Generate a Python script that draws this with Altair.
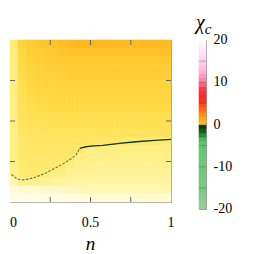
import altair as alt
import pandas as pd

# ---- heatmap values of chi_c, rows from top (y=0.975) to bottom (y=0.025), 20 columns n=0..1
row_y0975 = [.50, .80, .86, .89, .91, .93, .95, .97, .99, 1.0, 1.0, .99, .98, .97, .97, .97, .97, .97, .97, .97]
row_y0925 = [.48, .76, .83, .86, .88, .90, .92, .93, .94, .94, .94, .94, .94, .94, .94, .94, .94, .94, .94, .94]
row_y0875 = [.47, .74, .80, .83, .85, .87, .88, .89, .90, .90, .90, .90, .90, .90, .90, .90, .90, .90, .90, .90]
row_y0825 = [.46, .72, .78, .81, .83, .84, .85, .86, .87, .87, .87, .87, .87, .87, .87, .87, .87, .87, .87, .87]
row_y0775 = [.46, .70, .76, .79, .81, .82, .83, .84, .84, .84, .84, .84, .84, .84, .84, .84, .84, .84, .84, .84]
row_y0725 = [.45, .68, .74, .77, .79, .80, .81, .81, .81, .81, .81, .81, .81, .81, .81, .81, .81, .81, .81, .81]
row_y0675 = [.45, .66, .72, .75, .76, .77, .78, .78, .78, .78, .78, .78, .78, .78, .78, .78, .78, .78, .78, .78]
row_y0625 = [.45, .65, .70, .72, .73, .74, .75, .75, .75, .75, .75, .75, .75, .75, .75, .75, .75, .75, .75, .75]
row_y0575 = [.45, .63, .68, .70, .71, .72, .72, .72, .72, .72, .72, .72, .72, .72, .72, .72, .72, .72, .72, .72]
row_y0525 = [.44, .62, .66, .67, .68, .68, .68, .68, .68, .68, .68, .68, .68, .68, .68, .68, .68, .68, .68, .68]
row_y0475 = [.44, .60, .63, .64, .65, .65, .65, .65, .65, .65, .65, .65, .65, .65, .65, .65, .65, .65, .65, .65]
row_y0425 = [.44, .58, .60, .61, .62, .62, .62, .62, .62, .62, .62, .62, .62, .62, .62, .62, .62, .62, .62, .62]
row_y0375 = [.44, .56, .58, .60, .60, .60, .60, .60, .60, .60, .57, .57, .57, .57, .52, .52, .52, .52, .52, .52]
row_y0325 = [.44, .55, .57, .58, .58, .58, .58, .58, .57, .46, .45, .45, .45, .45, .45, .45, .45, .45, .45, .45]
row_y0275 = [.43, .55, .56, .56, .56, .56, .56, .55, .45, .43, .42, .42, .42, .42, .42, .42, .42, .42, .42, .42]
row_y0225 = [.42, .54, .55, .55, .55, .54, .50, .44, .41, .40, .39, .39, .39, .39, .39, .39, .39, .39, .39, .39]
row_y0175 = [.40, .50, .53, .53, .49, .44, .43, .39, .37, .37, .36, .36, .36, .36, .36, .36, .36, .36, .36, .36]
row_y0125 = [.25, .42, .40, .38, .38, .36, .35, .33, .32, .33, .32, .32, .32, .32, .32, .32, .32, .32, .32, .32]
row_y0075 = [.14, .18, .17, .18, .20, .20, .22, .24, .25, .26, .27, .27, .27, .27, .27, .27, .27, .27, .27, .27]
row_y0025 = [.06, .06, .06, .07, .08, .08, .10, .10, .12, .12, .13, .14, .14, .14, .14, .17, .17, .17, .17, .17]

heat_rows = [row_y0975, row_y0925, row_y0875, row_y0825, row_y0775, row_y0725, row_y0675,
             row_y0625, row_y0575, row_y0525, row_y0475, row_y0425, row_y0375, row_y0325,
             row_y0275, row_y0225, row_y0175, row_y0125, row_y0075, row_y0025]

# ---- boundary curve
curve_left_n = [0.01, 0.04, 0.07, 0.12, 0.16, 0.22, 0.27, 0.32, 0.37, 0.41, 0.433]
curve_left_y = [0.17, 0.145, 0.136, 0.142, 0.154, 0.178, 0.204, 0.23, 0.26, 0.29, 0.331]
curve_right_n = [0.433, 0.47, 0.52, 0.577, 0.68, 0.783, 0.9, 1.0]
curve_right_y = [0.331, 0.341, 0.346, 0.35, 0.362, 0.372, 0.381, 0.387]

# ---- axis ticks / labels / colorbar
x_first_label = [0]
x_other_labels = [0.5, 1]
frame_ticks = [0.25, 0.5, 0.75]
x_title = "n"
cb_labels = [-20, -10, 0, 10, 20]
cb_gridlines = [-15, -10, -5, 5, 10, 15]
cb_title_main = "χ"
cb_title_sub = "c"

chi_stops = [-20, -16, -5, -4, -3, -2, -1, -0.01, 0, 0.15, 0.3, 0.45, 0.6, 0.75, 0.9, 1.0,
             2.0, 3.0, 4.5, 6.5, 9, 11, 13, 15.5, 20]
chi_colors = ["#9acc9a", "#7cc886", "#5ec66e", "#4ab85a", "#2a8e36", "#145e18", "#0a3a0a", "#083008",
              "#fffff4", "#fffbd6", "#fff5a8", "#ffee80", "#ffe460", "#ffd840", "#ffc82c", "#ffb51c",
              "#ffa214", "#ff8a10", "#ff5a12", "#ff2020", "#ff3848", "#ff80a8", "#ffb0dc", "#ffd0f4", "#fff8ff"]

FONT = "Times New Roman"
W, H = 161, 162

nr = len(heat_rows)
recs = []
for i, row in enumerate(heat_rows):
    nc = len(row)
    for j, v in enumerate(row):
        recs.append({"n": j / nc, "n2": (j + 1) / nc,
                     "y": 1 - (i + 1) / nr, "y2": 1 - i / nr, "chi": v})
heat_df = pd.DataFrame(recs)

color_scale = alt.Scale(domain=chi_stops, range=chi_colors, interpolate="rgb")

x_enc = alt.X("n:Q", scale=alt.Scale(domain=[0, 1], nice=False, zero=False), axis=None)
y_enc = alt.Y("y:Q", scale=alt.Scale(domain=[0, 1], nice=False, zero=False), axis=None)

heat = alt.Chart(heat_df).mark_rect(strokeWidth=0.6).encode(
    x=x_enc, x2="n2:Q", y=y_enc, y2="y2:Q",
    color=alt.Color("chi:Q", scale=color_scale, legend=None),
    stroke=alt.Stroke("chi:Q", scale=color_scale, legend=None),
)

left_df = pd.DataFrame({"n": curve_left_n, "y": curve_left_y})
right_df = pd.DataFrame({"n": curve_right_n, "y": curve_right_y})
line_left = alt.Chart(left_df).mark_line(color="#2f5f28", strokeWidth=1.1, strokeDash=[2.5, 1.5],
                                          opacity=0.8).encode(x=x_enc, y=y_enc, order="n:Q")
line_right = alt.Chart(right_df).mark_line(color="#0a3a0c", strokeWidth=1.3).encode(
    x=x_enc, y=y_enc, order="n:Q")

tick_df = pd.DataFrame({"n": frame_ticks, "y": frame_ticks})
tick_col = "#666666"
t_bottom = alt.Chart(tick_df).mark_rule(color=tick_col).encode(x=x_enc, y=alt.value(H), y2=alt.value(H - 5))
t_top = alt.Chart(tick_df).mark_rule(color=tick_col).encode(x=x_enc, y=alt.value(0), y2=alt.value(5))
t_left = alt.Chart(tick_df).mark_rule(color=tick_col).encode(y=y_enc, x=alt.value(0), x2=alt.value(5))
t_right = alt.Chart(tick_df).mark_rule(color=tick_col).encode(y=y_enc, x=alt.value(W), x2=alt.value(W - 5))

lab_first = alt.Chart(pd.DataFrame({"n": x_first_label, "lab": [str(v) for v in x_first_label]})).mark_text(
    font=FONT, fontSize=14, align="left", baseline="alphabetic", color="#000"
).encode(x=x_enc, y=alt.value(H + 25), text="lab:N")
lab_other = alt.Chart(pd.DataFrame({"n": x_other_labels, "lab": [str(v) for v in x_other_labels]})).mark_text(
    font=FONT, fontSize=14, align="center", baseline="alphabetic", color="#000"
).encode(x=x_enc, y=alt.value(H + 25), text="lab:N")
x_title_mark = alt.Chart(pd.DataFrame({"t": [x_title]})).mark_text(
    font=FONT, fontSize=19, fontStyle="italic", align="center", baseline="alphabetic", color="#000"
).encode(x=alt.value(W / 2), y=alt.value(H + 48), text="t:N")

heat_panel = alt.layer(heat, line_left, line_right, t_bottom, t_top, t_left, t_right,
                       lab_first, lab_other, x_title_mark).properties(width=W, height=H)

# ---- colorbar
cb_lo = list(range(-20, 20))
cb_df = pd.DataFrame({"lo": cb_lo, "hi": [v + 1 for v in cb_lo],
                      "cval": [v + 1 if v >= 0 else v for v in cb_lo]})
cb_y = alt.Y("lo:Q", scale=alt.Scale(domain=[-20, 20], nice=False, zero=False), axis=None)
CBW, CBH = 7, 169
cb_rect = alt.Chart(cb_df).mark_rect(strokeWidth=0.6).encode(
    y=cb_y, y2="hi:Q", x=alt.value(0), x2=alt.value(CBW),
    color=alt.Color("cval:Q", scale=color_scale, legend=None),
    stroke=alt.Stroke("cval:Q", scale=color_scale, legend=None),
)
cb_grid = alt.Chart(pd.DataFrame({"lo": cb_gridlines})).mark_rule(color="#333", opacity=0.3).encode(
    y=cb_y, x=alt.value(0), x2=alt.value(CBW))
cb_lab = alt.Chart(pd.DataFrame({"lo": cb_labels, "lab": [str(v) for v in cb_labels]})).mark_text(
    font=FONT, fontSize=14, align="left", baseline="middle", color="#000"
).encode(y=cb_y, x=alt.value(14.5), text="lab:N")
cb_title = alt.Chart(pd.DataFrame({"t": [cb_title_main]})).mark_text(
    font=FONT, fontSize=20, fontStyle="italic", align="center", baseline="alphabetic", color="#000"
).encode(text="t:N", x=alt.value(1.5), y=alt.value(-11.5))
cb_sub = alt.Chart(pd.DataFrame({"t": [cb_title_sub]})).mark_text(
    font=FONT, fontSize=15, fontStyle="italic", align="center", baseline="alphabetic", color="#000"
).encode(text="t:N", x=alt.value(9), y=alt.value(-6.5))
cb_panel = alt.layer(cb_rect, cb_grid, cb_lab, cb_title, cb_sub).properties(width=CBW, height=CBH)

chart = alt.hconcat(heat_panel, cb_panel, spacing=28, bounds="flush").configure_view(
    stroke="#9a9a9a", strokeWidth=1
).properties(padding={"left": 0, "top": 4, "right": 0, "bottom": 0}, background="white")

chart.save("out.html", embed_options={"renderer": "svg", "actions": False})
